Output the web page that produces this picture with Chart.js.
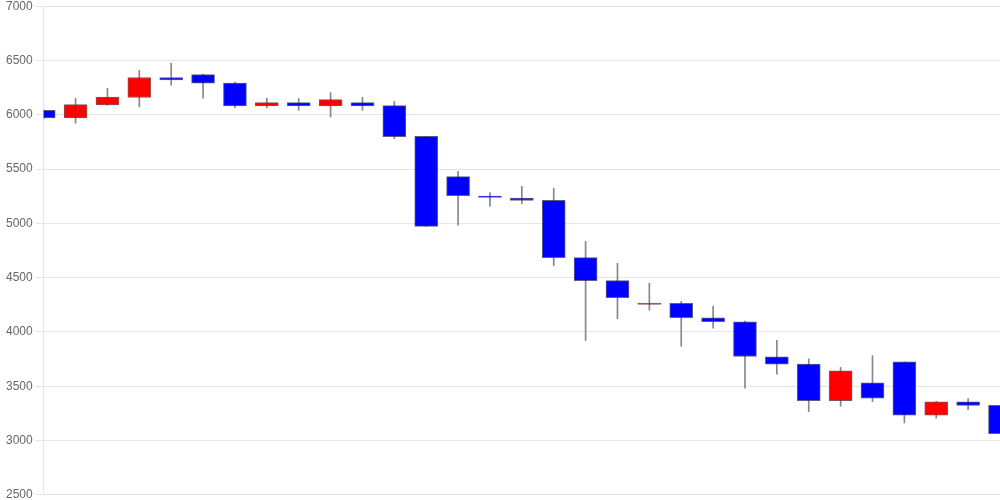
<!DOCTYPE html>
<html>
<head>
<meta charset="utf-8">
<script src="https://cdn.jsdelivr.net/npm/chart.js@4"></script>
<style>
    html, body { margin: 0; padding: 0; background: #fff; overflow: hidden; }
    #wrap { width: 1000px; height: 509px; margin-top: -4px; }
</style>
</head>
<body>
<div id="wrap"><canvas id="chart"></canvas></div>
<script>
// one candle per session, left to right
const sessions = ["1", "2", "3", "4", "5", "6", "7", "8", "9", "10", "11", "12", "13", "14", "15", "16",
    "17", "18", "19", "20", "21", "22", "23", "24", "25", "26", "27", "28", "29", "30", "31"];
const opens  = [6040, 5971, 6091, 6159, 6343, 6370, 6293, 6081, 6112, 6081, 6112, 6085, 5802, 5430, 5252, 5233,
    5212, 4684, 4472, 4254, 4263, 4131, 4094, 3771, 3703, 3366, 3532, 3725, 3233, 3357, 3323];
const highs  = [6045, 6152, 6244, 6410, 6475, 6375, 6300, 6152, 6149, 6204, 6161, 6124, 5802, 5479, 5283, 5341,
    5323, 4834, 4631, 4447, 4281, 4235, 4100, 3922, 3753, 3673, 3783, 3725, 3360, 3387, 3323];
const lows   = [5965, 5922, 6088, 6072, 6272, 6152, 6066, 6063, 6041, 5980, 6041, 5781, 4972, 4984, 5159, 5181,
    4610, 3922, 4122, 4201, 3869, 4035, 3482, 3611, 3265, 3316, 3357, 3163, 3205, 3283, 3062];
const closes = [5970, 6094, 6164, 6343, 6321, 6290, 6081, 6112, 6081, 6140, 6081, 5799, 4972, 5255, 5240, 5212,
    4684, 4472, 4315, 4266, 4131, 4094, 3774, 3703, 3366, 3642, 3390, 3233, 3357, 3323, 3062];

const bodies = opens.map((o, i) => [o, closes[i]]);
const wicks = lows.map((l, i) => [l, highs[i]]);
const colors = opens.map((o, i) => (closes[i] > o ? "#ff0000" : "#0000ff"));
const edges = opens.map((o, i) => (closes[i] > o ? "rgba(90,30,30,0.75)" : "rgba(40,40,90,0.75)"));

const config = {
    type: "bar",
    data: {
        labels: sessions,
        datasets: [
            {
                label: "body",
                data: bodies,
                backgroundColor: colors,
                borderColor: edges,
                borderWidth: 1,
                borderSkipped: false,
                barThickness: 23,
                grouped: false,
                order: 0,
            },
            {
                label: "wick",
                data: wicks,
                backgroundColor: "#888888",
                borderWidth: 0,
                barThickness: 1,
                grouped: false,
                order: 1,
            },
        ],
    },
    options: {
        responsive: true,
        maintainAspectRatio: false,
        animation: false,
        layout: { padding: { left: 3 } },
        plugins: {
            legend: { display: false },
            tooltip: { enabled: false },
        },
        scales: {
            x: {
                display: false,
                offset: false,
            },
            y: {
                min: 2500,
                max: 7000,
                ticks: {
                    stepSize: 500,
                    color: "#666",
                    font: { family: "Arial, 'Liberation Sans', sans-serif", size: 12 },
                    callback: (v) => String(v),
                },
                grid: { color: "rgba(0,0,0,0.1)" },
                border: { color: "rgba(0,0,0,0.1)" },
            },
        },
    },
};

new Chart(document.getElementById("chart"), config);
</script>
</body>
</html>
